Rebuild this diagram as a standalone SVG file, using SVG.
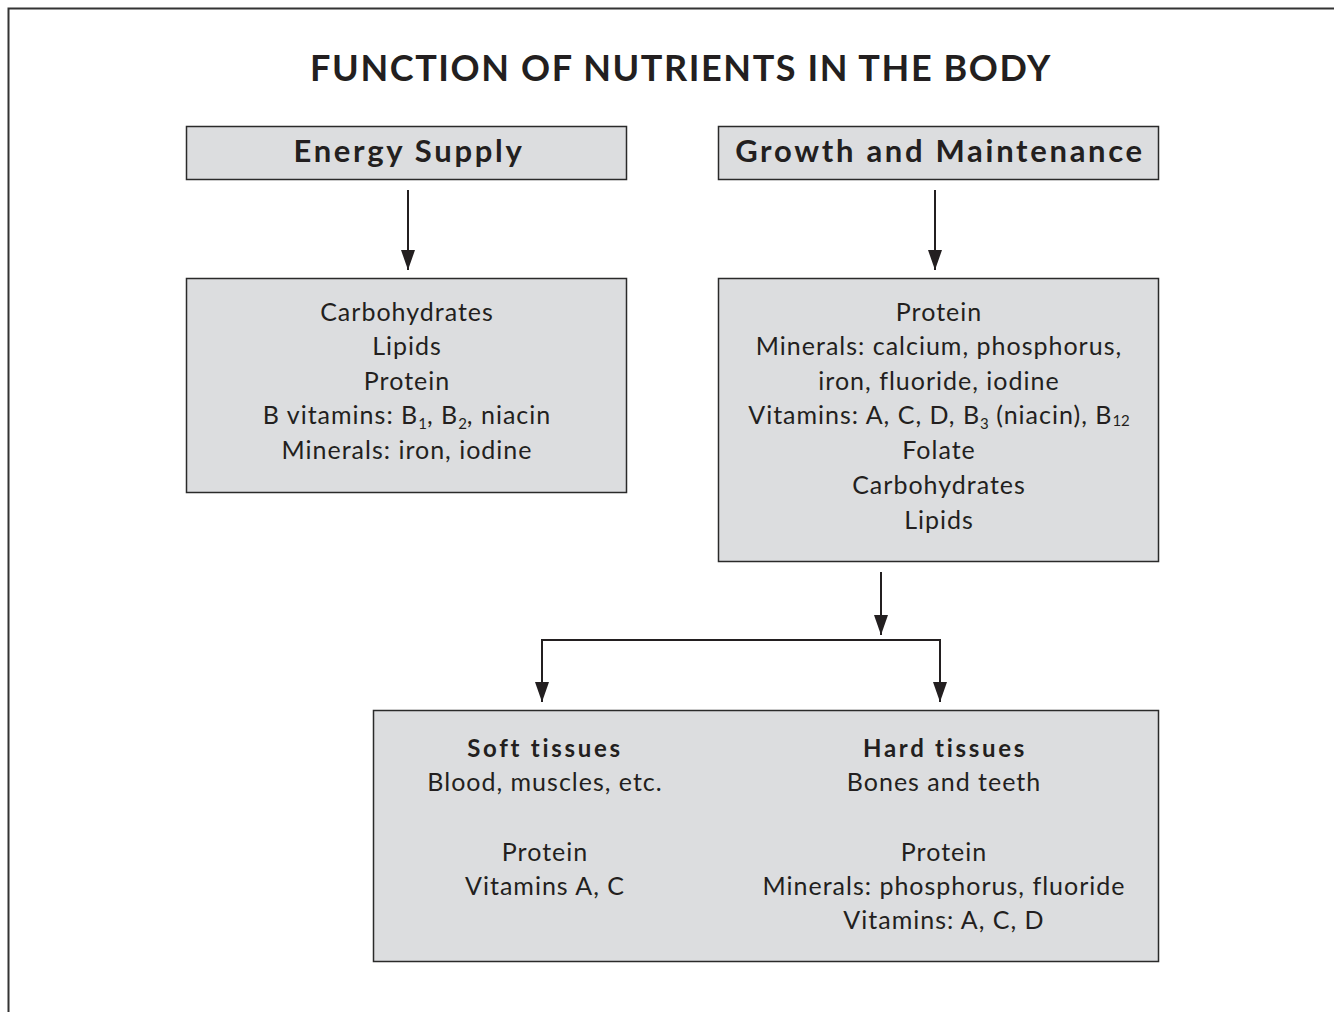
<svg xmlns="http://www.w3.org/2000/svg" width="1334" height="1012" viewBox="0 0 1334 1012">
<defs>
<style>
.box{fill:#dcdddf;stroke:#2a2a2a;stroke-width:1.5}
.t{font-family:Lato,"Open Sans","Liberation Sans",sans-serif;fill:#231f20;text-anchor:middle}
.c{font-size:25px;letter-spacing:1px}
.cb{font-size:24px;font-weight:bold;letter-spacing:2.7px}
.h{font-size:31px;font-weight:bold;letter-spacing:2.7px}
.ttl{font-size:36px;font-weight:bold;letter-spacing:1.6px}
.ln{stroke:#231f20;stroke-width:2;fill:none}
.sub{font-size:15px;letter-spacing:0}
</style>
<marker id="ad" viewBox="0 0 14 20" refX="7" refY="20" markerWidth="14" markerHeight="20" markerUnits="userSpaceOnUse" orient="0">
<path d="M0,0 L14,0 L7,20 Z" fill="#231f20"/>
</marker>
</defs>
<rect width="1334" height="1012" fill="#ffffff"/>
<path d="M8.5,1012 V8.5 H1334" fill="none" stroke="#333" stroke-width="2"/>
<text class="t ttl" x="681" y="81">FUNCTION OF NUTRIENTS IN THE BODY</text>

<g id="energy-supply">
<rect class="box" x="186.5" y="126.5" width="440" height="53"/>
<text class="t h" x="409" y="162">Energy Supply</text>
</g>
<g id="growth-maintenance">
<rect class="box" x="718.5" y="126.5" width="440" height="53"/>
<text class="t h" x="940" y="162">Growth and Maintenance</text>
</g>
<g id="energy-nutrients">
<rect class="box" x="186.5" y="278.5" width="440" height="214"/>
<text class="t c" x="407" y="321">Carbohydrates</text>
<text class="t c" x="407" y="355">Lipids</text>
<text class="t c" x="407" y="390">Protein</text>
<text class="t c" x="407" y="424">B vitamins: B<tspan class="sub" dy="5">1</tspan><tspan dy="-5">, B</tspan><tspan class="sub" dy="5">2</tspan><tspan dy="-5">, niacin</tspan></text>
<text class="t c" x="407" y="459">Minerals: iron, iodine</text>
</g>
<g id="growth-nutrients">
<rect class="box" x="718.5" y="278.5" width="440" height="283"/>
<text class="t c" x="939" y="321">Protein</text>
<text class="t c" x="939" y="355">Minerals: calcium, phosphorus,</text>
<text class="t c" x="939" y="390">iron, fluoride, iodine</text>
<text class="t c" x="939" y="424">Vitamins: A, C, D, B<tspan class="sub" dy="5">3</tspan><tspan dy="-5"> (niacin), B</tspan><tspan class="sub" dy="2">12</tspan></text>
<text class="t c" x="939" y="459">Folate</text>
<text class="t c" x="939" y="494">Carbohydrates</text>
<text class="t c" x="939" y="529">Lipids</text>
</g>
<g id="tissues">
<rect class="box" x="373.5" y="710.5" width="785" height="251"/>
<text class="t cb" x="545" y="757">Soft tissues</text>
<text class="t c" x="545" y="791">Blood, muscles, etc.</text>
<text class="t c" x="545" y="861">Protein</text>
<text class="t c" x="545" y="895">Vitamins A, C</text>
<text class="t cb" x="945" y="757">Hard tissues</text>
<text class="t c" x="944" y="791">Bones and teeth</text>
<text class="t c" x="944" y="861">Protein</text>
<text class="t c" x="944" y="895">Minerals: phosphorus, fluoride</text>
<text class="t c" x="944" y="929">Vitamins: A, C, D</text>
</g>
<g id="connectors">
<line class="ln" x1="408" y1="190" x2="408" y2="270" marker-end="url(#ad)"/>
<line class="ln" x1="935" y1="190" x2="935" y2="270" marker-end="url(#ad)"/>
<line class="ln" x1="881" y1="572" x2="881" y2="635" marker-end="url(#ad)"/>
<polyline class="ln" points="542,702 542,640 940,640 940,702"/>
<line class="ln" x1="542" y1="660" x2="542" y2="702" marker-end="url(#ad)"/>
<line class="ln" x1="940" y1="660" x2="940" y2="702" marker-end="url(#ad)"/>
</g>
</svg>
